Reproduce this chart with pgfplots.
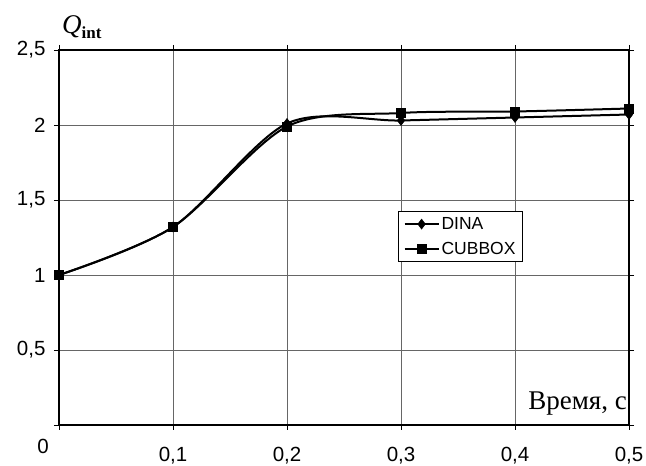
\documentclass[border=0pt]{standalone}
\usepackage{pgfplots}
\pgfplotsset{compat=1.18}
\usepackage{fontspec}
\setmainfont{Liberation Serif}
\newfontfamily\arial{Liberation Sans}

\pgfplotstableread{
t     q
0     1.00
0.1   1.32
0.2   2.01
0.3   2.03
0.4   2.05
0.5   2.07
}\dina
\pgfplotstableread{
t     q
0     1.00
0.1   1.32
0.2   1.99
0.3   2.08
0.4   2.09
0.5   2.11
}\cubbox

\begin{document}
\begin{tikzpicture}[x=1pt,y=1pt]
\useasboundingbox (0,0) rectangle (646,466);
\begin{axis}[
  at={(59pt,41pt)}, anchor=south west,
  scale only axis, width=570pt, height=375pt,
  xmin=0, xmax=0.5, ymin=0, ymax=2.5,
  xtick={0,0.1,0.2,0.3,0.4,0.5},
  xticklabels={,{0,1},{0,2},{0,3},{0,4},{0,5}},
  ytick={0,0.5,1,1.5,2,2.5},
  yticklabels={,{0,5},1,{1,5},2,{2,5}},
  tick align=outside, major tick length=5pt,
  tick style={black, line width=0.8pt},
  ticklabel style={font=\arial\fontsize{20.5}{23}\selectfont},
  xticklabel style={yshift=-14pt},
  yticklabel style={xshift=-5pt},
  grid=major,
  major grid style={gray!80!black, line width=0.9pt},
  axis line style={black, line width=1.3pt},
  axis lines*=box,
  xlabel={Время, с},
  xlabel style={at={(rel axis cs:1,0)}, anchor=base east, xshift=-2pt, yshift=15pt,
    font=\fontsize{27}{30}\selectfont, inner sep=0pt},
  ylabel={{\fontsize{27}{30}\selectfont\itshape Q}\raisebox{-5pt}{\fontsize{17}{20}\selectfont\bfseries int}},
  ylabel style={at={(rel axis cs:0,1)}, anchor=base west, rotate=-90, xshift=3pt, yshift=16pt, inner sep=0pt},
  legend style={at={(rel axis cs:0.595,0.571)}, anchor=north west,
    draw=black, line width=0.9pt, font=\arial\fontsize{17.5}{19}\selectfont,
    inner xsep=5pt, inner ysep=4pt, row sep=7pt},
  legend cell align=left,
  legend image code/.code={%
    \draw[mark repeat=2, mark phase=2, #1] plot coordinates {(0pt,0pt) (17pt,0pt) (34pt,0pt)};},
  clip=false,
]
\addplot[black, line width=2pt, smooth, tension=0.5, mark=diamond*, mark size=5pt,
  mark options={line width=0.5pt, solid}] table[x=t, y=q] {\dina};
\addlegendentry{DINA}
\addplot[black, line width=2pt, smooth, tension=0.5, mark=square*, mark size=4.5pt,
  mark options={line width=0.5pt, solid}] table[x=t, y=q] {\cubbox};
\addlegendentry{CUBBOX}
\node[anchor=east, font=\arial\fontsize{20.5}{23}\selectfont, inner sep=0pt]
  at (axis cs:0,0) [xshift=-10pt, yshift=-21pt] {0};
\end{axis}
\end{tikzpicture}
\end{document}
